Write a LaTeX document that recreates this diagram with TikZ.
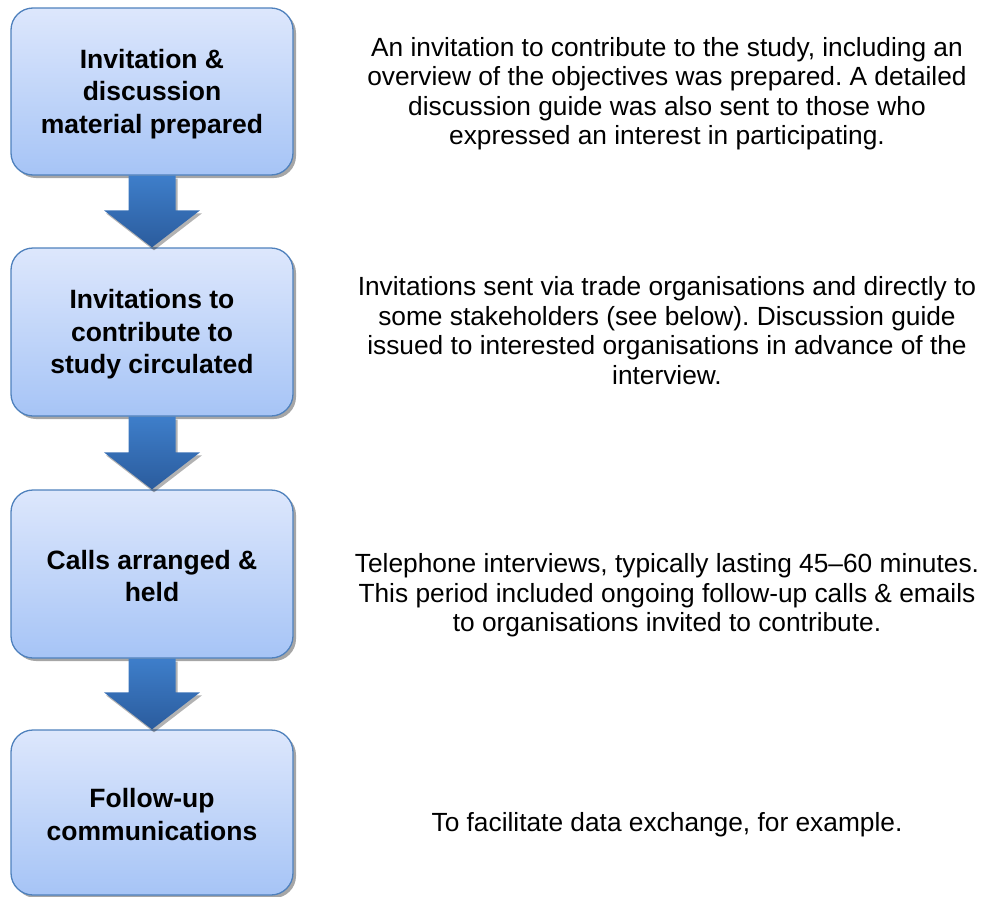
\documentclass[tikz,border=0pt]{standalone}
\usepackage{fontspec}
\setmainfont{Liberation Sans}
\usetikzlibrary{calc,shadows}
\frenchspacing
\definecolor{boxtop}{RGB}{221,231,252}
\definecolor{boxbot}{RGB}{166,196,246}
\definecolor{boxedge}{RGB}{79,129,189}
\definecolor{arrtop}{RGB}{62,126,202}
\definecolor{arrbot}{RGB}{43,92,157}
\tikzset{
  stepbox/.style={draw=boxedge, line width=1.3pt, rounded corners=22pt,
    top color=boxtop, bottom color=boxbot, minimum width=282pt, inner sep=0pt,
    drop shadow={shadow xshift=3pt, shadow yshift=-3pt, fill=black, opacity=0.35}},
  boxtext/.style={inner sep=0pt, align=center, font=\fontsize{26.5}{32.5}\selectfont\bfseries},
  desc/.style={anchor=north, inner sep=0pt, align=center, font=\fontsize{26.3}{29.5}\selectfont},
  blockarrow/.style={top color=arrtop, bottom color=arrbot,
    preaction={fill=black, opacity=0.3, transform canvas={xshift=2pt, yshift=-3pt}}},
}
\newcommand{\stepArrow}[2]{%
  \shade[blockarrow] ($(#1.south)+(-23.5,0)$) -- ($(#1.south)+(23.5,0)$)
    -- ($(#2.north)+(23.5,-37)$) -- ($(#2.north)+(48,-37)$) -- (#2.north)
    -- ($(#2.north)+(-48,-37)$) -- ($(#2.north)+(-23.5,-37)$) -- cycle;}
\begin{document}
\begin{tikzpicture}[x=1pt,y=-1pt]
\useasboundingbox (0,0) rectangle (983,897);
% boxes
\node[stepbox, minimum height=167pt] (b1) at (152,91.5) {};
\node[stepbox, minimum height=168pt] (b2) at (152,332) {};
\node[stepbox, minimum height=168pt] (b3) at (152,574) {};
\node[stepbox, minimum height=165pt] (b4) at (152,812.5) {};
\node[boxtext] (l1) at ($(b1.center)+(0,2.5)$) {Invitation \&\\discussion\\material prepared};
\node[boxtext] (l2) at ($(b2.center)+(0,2.5)$) {Invitations to\\contribute to\\study circulated};
\node[boxtext] (l3) at ($(b3.center)+(0,2)$) {Calls arranged \&\\held};
\node[boxtext] (l4) at ($(b4.center)+(0,2)$) {Follow-up\\communications};
% arrows
\stepArrow{b1}{b2}
\stepArrow{b2}{b3}
\stepArrow{b3}{b4}
% descriptions
\node[desc] (t1) at (667,37) {An invitation to contribute to the study, including an\\overview of the objectives was prepared. A detailed\\discussion guide was also sent to those who\\expressed an interest in participating.};
\node[desc] (t2) at (667,276.5) {Invitations sent via trade organisations and directly to\\some stakeholders (see below). Discussion guide\\issued to interested organisations in advance of the\\interview.};
\node[desc] (t3) at (667,553.5) {Telephone interviews, typically lasting 45–60 minutes.\\This period included ongoing follow-up calls \& emails\\to organisations invited to contribute.};
\node[desc] (t4) at (667,812) {To facilitate data exchange, for example.};
\end{tikzpicture}
\end{document}
